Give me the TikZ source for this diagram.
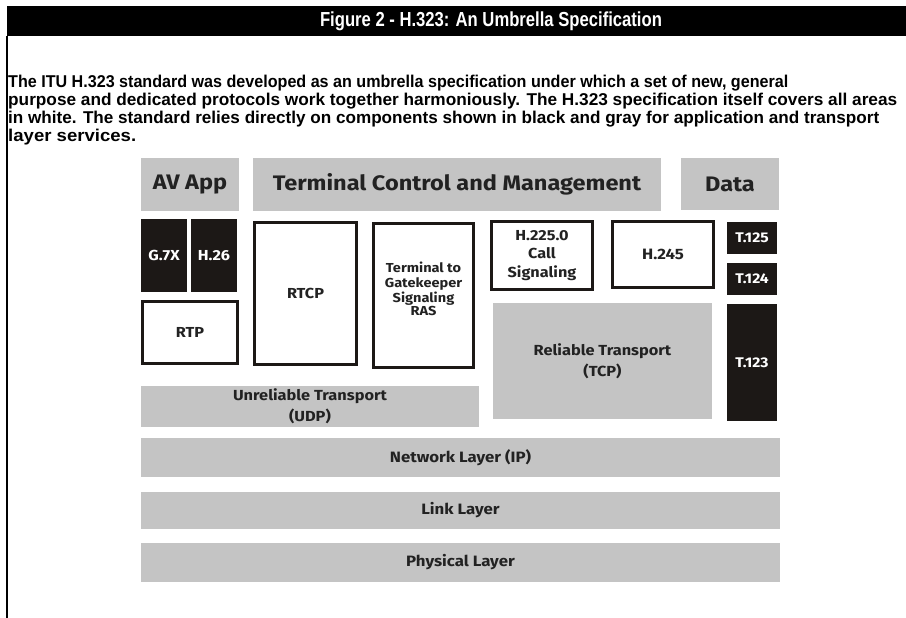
\documentclass[tikz,border=0pt]{standalone}
\usepackage{fontspec}
\usepackage{graphicx}
\setmainfont{Liberation Sans}
\newfontfamily\titlefont[FakeStretch=0.82]{Liberation Sans}
\newfontfamily\boxfont[FakeStretch=1.12]{Fira Sans}
\definecolor{lgray}{HTML}{C4C4C4}
\definecolor{dblack}{HTML}{1C1816}
\definecolor{txt}{HTML}{222222}
\tikzset{
  base/.style={inner sep=0pt, outer sep=0pt, align=center, font=\boxfont\bfseries},
  graybox/.style={base, fill=lgray, text=txt},
  blackbox/.style={base, fill=dblack, text=white},
  whitebox/.style={base, fill=white, draw=dblack, line width=2.6pt, text=txt},
  para/.style={anchor=west, inner sep=0pt, font=\fontsize{17.1}{18}\selectfont\bfseries}
}
\begin{document}
\begin{tikzpicture}[x=1pt,y=-1pt]
\useasboundingbox[fill=white] (0,0) rectangle (906,618);
% title bar
\fill[black] (7,6) rectangle (906,36);
\node[inner sep=0pt, text=white, font=\titlefont\bfseries\fontsize{20.3}{21}\selectfont] (title) at (491,21.5) {Figure 2 - H.323: An Umbrella Specification};
\draw[line width=2pt] (7,36) -- (7,618);
% paragraph
\node[para] (p1) at (8,83) {\resizebox{780pt}{\height}{The ITU H.323 standard was developed as an umbrella specification under which a set of new, general}};
\node[para] (p2) at (8,101) {\resizebox{889pt}{\height}{purpose and dedicated protocols work together harmoniously. The H.323 specification itself covers all areas}};
\node[para] (p3) at (8,119) {\resizebox{871pt}{\height}{in white. The standard relies directly on components shown in black and gray for application and transport}};
\node[para] (p4) at (8,137) {\resizebox{128pt}{\height}{layer services.}};
% top row
\node[graybox, minimum width=98, minimum height=53, font=\boxfont\bfseries\fontsize{21}{23}\selectfont] (av) at (190,184.5) {AV App};
\node[graybox, minimum width=408, minimum height=53, font=\boxfont\bfseries\fontsize{21}{23}\selectfont] (tcm) at (457,184.5) {Terminal Control and Management};
\node[graybox, minimum width=98, minimum height=52, font=\boxfont\bfseries\fontsize{21}{23}\selectfont] (data) at (730,184) {Data};
% codecs
\node[blackbox, minimum width=46, minimum height=73, font=\boxfont\bfseries\fontsize{14.5}{16}\selectfont] (g7x) at (164,255.5) {G.7X};
\node[blackbox, minimum width=46, minimum height=73, font=\boxfont\bfseries\fontsize{14.5}{16}\selectfont] (h26) at (214,255.5) {H.26};
\node[whitebox, minimum width=95.4, minimum height=62.4, font=\boxfont\bfseries\fontsize{14.5}{16}\selectfont] (rtp) at (190,332.5) {RTP};
\node[whitebox, minimum width=102.4, minimum height=142.4, font=\boxfont\bfseries\fontsize{14.5}{16}\selectfont] (rtcp) at (305.5,293.5) {RTCP};
\node[whitebox, minimum width=100.4, minimum height=144.4] (ras) at (423.5,295.5) {};
\node[base, text=txt, font=\boxfont\bfseries\fontsize{13}{15}\selectfont] (rastext) at (423.5,291) {\begin{tabular}{@{}c@{}}Terminal to\\[0.5pt]Gatekeeper\\[0pt]Signaling\\[-2pt]RAS\end{tabular}};
\node[whitebox, minimum width=101.4, minimum height=68.4, font=\boxfont\bfseries\fontsize{14.5}{18.5}\selectfont] (h225) at (542,255.5) {H.225.0\\Call\\Signaling};
\node[whitebox, minimum width=101.4, minimum height=66.4, font=\boxfont\bfseries\fontsize{15}{16}\selectfont] (h245) at (663,254.5) {H.245};
\node[blackbox, minimum width=50, minimum height=32, font=\boxfont\bfseries\fontsize{14}{15}\selectfont] (t125) at (752,238) {T.125};
\node[blackbox, minimum width=50, minimum height=32, font=\boxfont\bfseries\fontsize{14}{15}\selectfont] (t124) at (752,279) {T.124};
\node[blackbox, minimum width=50, minimum height=117, font=\boxfont\bfseries\fontsize{14}{15}\selectfont] (t123) at (752,362.5) {T.123};
% transports
\node[graybox, minimum width=219, minimum height=116, font=\boxfont\bfseries\fontsize{14.6}{21}\selectfont] (tcp) at (602.5,361) {Reliable Transport\\(TCP)};
\node[graybox, minimum width=338, minimum height=41, font=\boxfont\bfseries\fontsize{14.6}{21}\selectfont] (udp) at (310,406.5) {Unreliable Transport\\(UDP)};
% layers
\node[graybox, minimum width=639, minimum height=39, font=\boxfont\bfseries\fontsize{15}{17}\selectfont] (net) at (460.5,457.5) {Network Layer (IP)};
\node[graybox, minimum width=639, minimum height=37, font=\boxfont\bfseries\fontsize{15}{17}\selectfont] (link) at (460.5,510.5) {Link Layer};
\node[graybox, minimum width=639, minimum height=39, font=\boxfont\bfseries\fontsize{15}{17}\selectfont] (phy) at (460.5,562.5) {Physical Layer};
\end{tikzpicture}
\end{document}
